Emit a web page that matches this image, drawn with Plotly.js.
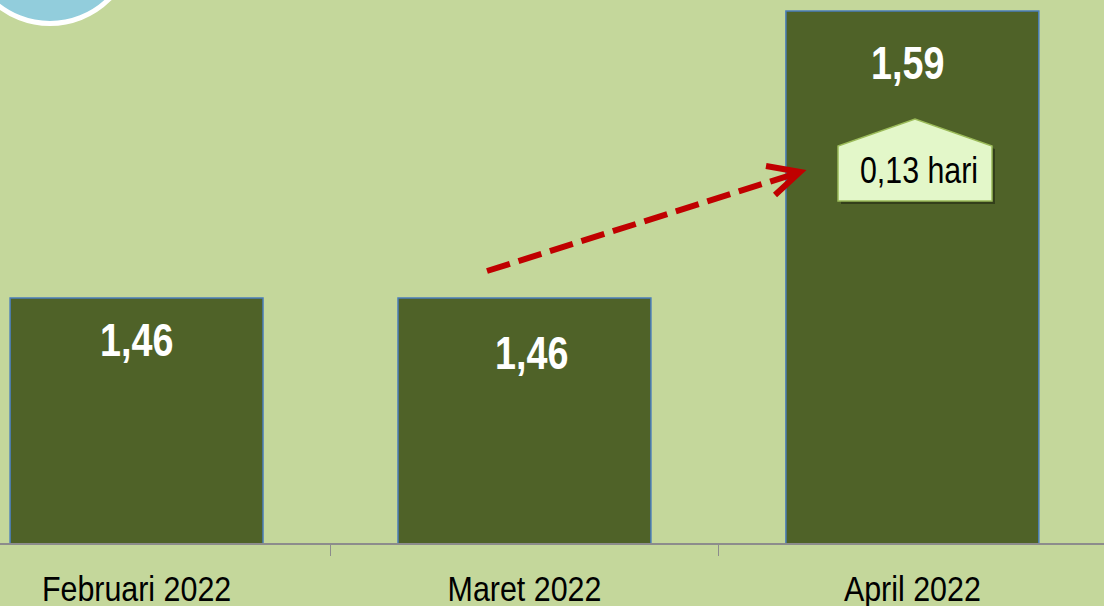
<!DOCTYPE html>
<html>
<head>
<meta charset="utf-8">
<script src="https://cdn.plot.ly/plotly-3.0.1.min.js"></script>
<style>html,body{margin:0;padding:0;background:#c4d79b;}#chart{width:1104px;height:606px;}</style>
</head>
<body>
<div id="chart"></div>
<script>
// ---- data ----
const categories = ["Februari 2022", "Maret 2022", "April 2022"];
const values = [1.46, 1.46, 1.59];
const valueLabels = ["1,46", "1,46", "1,59"];
const changeLabel = "0,13 hari";

// ---- layout constants ----
const W = 1104, H = 606, MB = 63, PH = H - MB;
const FONT = "'Liberation Sans', Arial, sans-serif";
const BG = "#c4d79b";
const px = x => x / W;
const py = y => (PH - y) / PH;

const trace = {
  type: "bar",
  x: categories,
  y: values,
  width: 0.652,
  marker: {color: "#4f6228", line: {color: "#4a7ebb", width: 1.5}},
  hoverinfo: "skip"
};

const labelShift = [-42, -55, -52];
const labelXShift = [0, 8, -4];
const annotations = categories.map((c, i) => ({
  x: c, y: values[i], xref: "x", yref: "y",
  text: valueLabels[i], showarrow: false,
  yanchor: "middle", yshift: labelShift[i], xshift: labelXShift[i],
  font: {family: FONT, size: 46, color: "#ffffff", weight: "bold"}
}));
annotations.push({
  x: px(919), y: py(170), xref: "paper", yref: "paper",
  text: changeLabel, showarrow: false, xanchor: "center", yanchor: "middle",
  font: {family: FONT, size: 37, color: "#000000"}
});

function pent(dx, dy) {
  const pts = [[838,201],[992,201],[992,146],[915,119],[838,146]];
  return "M " + pts.map(p => px(p[0] + dx) + "," + py(p[1] + dy)).join(" L ") + " Z";
}

const shapes = [
  {type: "circle", xref: "paper", yref: "paper",
   x0: px(50 - 83.5), x1: px(50 + 83.5), y0: py(-60 + 83.5), y1: py(-60 - 83.5),
   fillcolor: "#92cddc", line: {color: "#ffffff", width: 5}, layer: "above"},
  {type: "line", xref: "paper", yref: "paper",
   x0: px(487), y0: py(271), x1: px(794), y1: py(174),
   line: {color: "#c00000", width: 6, dash: "24px,9px"}, layer: "above"},
  {type: "path", xref: "paper", yref: "paper",
   path: "M " + px(766) + "," + py(166) + " L " + px(800) + "," + py(172) + " L " + px(775) + "," + py(195),
   line: {color: "#c00000", width: 6}, layer: "above"},
  {type: "path", xref: "paper", yref: "paper", path: pent(3, 3),
   fillcolor: "rgba(0,0,0,0.35)", line: {width: 0}, layer: "above"},
  {type: "path", xref: "paper", yref: "paper", path: pent(0, 0),
   fillcolor: "#e3f7c9", line: {color: "#9bbb59", width: 1.5}, layer: "above"}
];

const layout = {
  width: W, height: H,
  margin: {l: 0, r: 0, t: 0, b: MB, pad: 0},
  paper_bgcolor: BG, plot_bgcolor: BG,
  showlegend: false,
  bargap: 0,
  xaxis: {
    type: "category", range: [-0.352, 2.494],
    showgrid: false, zeroline: false,
    showline: true, linecolor: "#8c8c8c", linewidth: 1.5,
    ticks: "outside", tickson: "boundaries", ticklen: 11, tickwidth: 1.5, tickcolor: "#8c8c8c",
    tickfont: {family: FONT, size: 36, color: "#000000"},
    ticklabelstandoff: 13,
    fixedrange: true
  },
  yaxis: {
    range: [1.349, 1.595],
    visible: false, showgrid: false, zeroline: false, fixedrange: true
  },
  annotations: annotations,
  shapes: shapes
};

// condense text horizontally (narrow typeface look) around its own centre
function condense(sel, f) {
  document.querySelectorAll(sel).forEach(t => {
    const b = t.getBBox();
    const cx = b.x + b.width / 2;
    const tr = t.getAttribute("transform") || "";
    t.setAttribute("transform", tr + " translate(" + cx + ",0) scale(" + f + ",1) translate(" + (-cx) + ",0)");
  });
}

Plotly.newPlot("chart", [trace], layout, {displayModeBar: false, staticPlot: true}).then(() => {
  condense(".xtick text", 0.845);
  condense(".annotation-text", 0.82);
});
</script>
</body>
</html>
